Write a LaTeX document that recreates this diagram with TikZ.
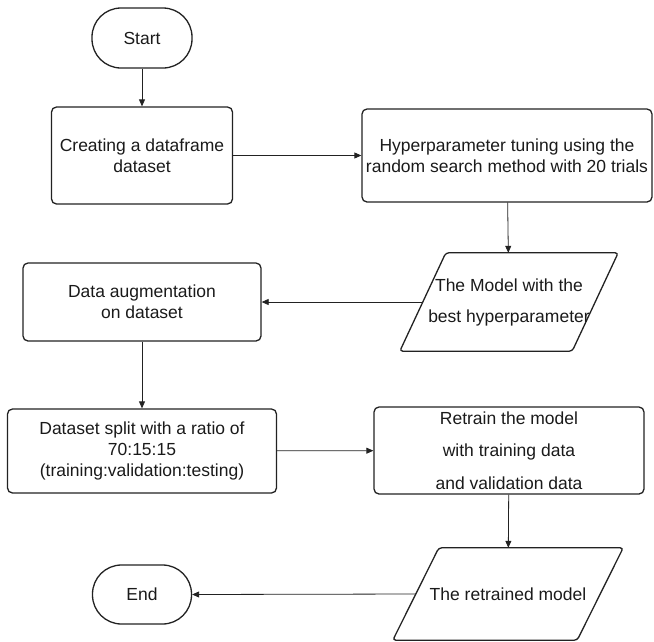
\documentclass[tikz,border=0pt]{standalone}
\usepackage{fontspec}
\setmainfont{Liberation Sans}
\usepackage{tikz}
\usepackage{xcolor}
\usetikzlibrary{arrows.meta}
\definecolor{fcink}{HTML}{1A1A1A}
\definecolor{fcline}{HTML}{222222}
\tikzset{
  termBox/.style={draw=fcline, line width=1.3pt, rounded corners=29pt, inner sep=0pt, minimum width=100pt, minimum height=60pt, text=fcink, font=\fontsize{17.5}{21}\selectfont},
  procBox/.style={draw=fcline, line width=1.3pt, rounded corners=5pt, inner sep=0pt, align=center, text=fcink, font=\fontsize{17.5}{21}\selectfont},
  ioBox/.style={inner sep=0pt, align=center, text=fcink, font=\fontsize{17.5}{31}\selectfont},
  ioLine/.style={draw=fcline, line width=1.3pt, rounded corners=3pt},
  flowArrow/.style={-{Triangle[length=7pt,width=6pt]}, line width=0.8pt, draw=fcline}
}
\begin{document}
\begin{tikzpicture}[x=1pt,y=-1pt]
  \useasboundingbox (0,0) rectangle (654,641);
  % left column
  \node[termBox] (start) at (142,38){Start};
  \node[procBox, minimum width=181pt, minimum height=97pt] (frame) at (142,155.5){Creating a dataframe\\dataset};
  \node[procBox, minimum width=238pt, minimum height=78pt] (augment) at (142,302){Data augmentation\\on dataset};
  \node[procBox, minimum width=269pt, minimum height=84pt] (split) at (142,451){Dataset split with a ratio of\\70:15:15\\(training:validation:testing)};
  \node[termBox, minimum width=99pt, minimum height=59pt] (finish) at (142,594.5){End};
  % right column
  \node[procBox, minimum width=290pt, minimum height=93pt] (tuning) at (507,155.5){Hyperparameter tuning using the\\random search method with 20 trials};
  \node[ioBox, minimum width=172pt, minimum height=98pt] (bestModel) at (509,302){The Model with the\\best hyperparameter};
  \node[procBox, minimum width=270pt, minimum height=87pt, font=\fontsize{17.5}{32.5}\selectfont] (retrain) at (509,450.5){Retrain the model\\with training data\\and validation data};
  \node[ioBox, minimum width=184pt, minimum height=92pt] (retrained) at (508,594){The retrained model};
  % slanted outlines of the data nodes
  \foreach \n in {bestModel,retrained}
    \draw[ioLine] ([xshift=23pt]\n.north west) -- ([xshift=23pt]\n.north east)
      -- ([xshift=-23pt]\n.south east) -- ([xshift=-23pt]\n.south west) -- cycle;
  % connectors
  \draw[flowArrow] (start) -- (frame);
  \draw[flowArrow] (frame) -- (tuning);
  \draw[flowArrow] (tuning) -- (bestModel);
  \draw[flowArrow] (bestModel.west) -- (augment.east);
  \draw[flowArrow] (augment) -- (split);
  \draw[flowArrow] (split) -- (retrain);
  \draw[flowArrow] (retrain) -- (retrained);
  \draw[flowArrow] (retrained.west) -- (finish.east);
\end{tikzpicture}
\end{document}
